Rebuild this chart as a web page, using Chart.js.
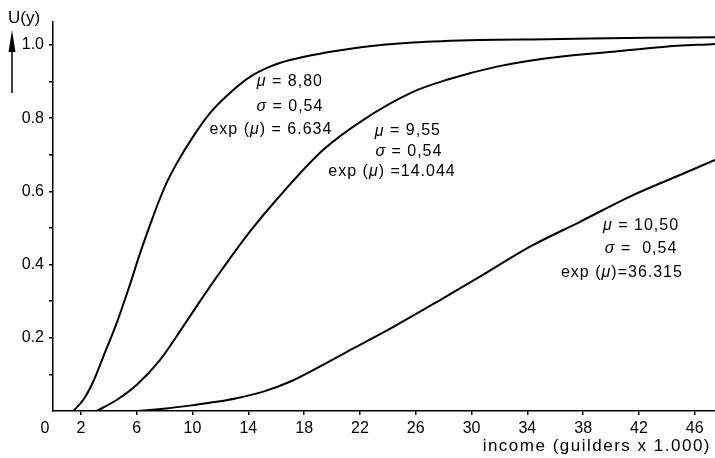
<!DOCTYPE html>
<html>
<head>
<meta charset="utf-8">
<script src="https://cdn.jsdelivr.net/npm/chart.js@4.4.1/dist/chart.umd.min.js"></script>
<style>
  html, body { margin: 0; padding: 0; background: #fff; }
  canvas { display: block; }
</style>
</head>
<body>
<canvas id="chart" width="715" height="458"></canvas>
<script>
// ticks
const xTicks = [2, 6, 10, 14, 18, 22, 26, 30, 34, 38, 42, 46];
const yTicks = [0.1, 0.2, 0.3, 0.4, 0.5, 0.6, 0.7, 0.8, 0.9, 1.0];

// curve 1: mu = 8,80
const inc1 = [1.45, 2.16, 2.88, 3.6, 4.56, 5.51, 6.23, 6.95, 7.66, 8.2, 8.86, 10.03, 11.25, 12.68, 14.12, 15.55, 16.98, 19.35, 22.22, 25.8, 30.6, 35.41, 42.58, 47.45];
const u1   = [0, 0.03, 0.08, 0.148, 0.24, 0.345, 0.43, 0.508, 0.58, 0.628, 0.676, 0.749, 0.814, 0.869, 0.913, 0.941, 0.959, 0.978, 0.995, 1.007, 1.014, 1.016, 1.02, 1.021];

// curve 2: mu = 9,55
const inc2 = [3.13, 4.56, 5.99, 7.66, 9.31, 10.75, 12.44, 14.11, 16.03, 19.35, 22.22, 25.8, 28.24, 31.82, 35.41, 40.14, 43.73, 47.45];
const u2   = [0, 0.03, 0.071, 0.139, 0.23, 0.312, 0.404, 0.49, 0.578, 0.713, 0.795, 0.872, 0.905, 0.941, 0.964, 0.982, 0.995, 1.003];

// curve 3: mu = 10,50
const inc3 = [6.0, 8.14, 10.05, 11.73, 13.16, 15.07, 16.98, 18.65, 21.52, 24.63, 27.74, 30.6, 34.19, 37.77, 41.35, 44.94, 47.45];
const u3   = [0, 0.007, 0.016, 0.025, 0.035, 0.053, 0.08, 0.112, 0.171, 0.235, 0.303, 0.367, 0.449, 0.517, 0.586, 0.645, 0.686];

// parameter labels next to each curve
const curveLabels = [
  { lines: ['μ = 8,80', 'σ = 0,54', 'exp (μ) = 6.634'], at: [[16.98, 0.899], [16.98, 0.833], [15.62, 0.768]] },
  { lines: ['μ = 9,55', 'σ = 0,54', 'exp (μ) =14.044'], at: [[25.44, 0.765], [25.51, 0.708], [24.3, 0.653]] },
  { lines: ['μ = 10,50', 'σ =  0,54', 'exp (μ)=36.315'], at: [[42.15, 0.508], [42.15, 0.443], [40.78, 0.377]] },
];

const FONT = '"Liberation Sans", Arial, sans-serif';

function pts(xs, ys) { return xs.map((x, i) => ({ x: x, y: ys[i] })); }

function line(data) {
  return { data: data, borderColor: '#000', borderWidth: 2, pointRadius: 0, fill: false, cubicInterpolationMode: 'monotone' };
}

// draws text centred at cx, greek letters in italics
function drawRuns(ctx, text, cx, cy, size) {
  const up = size + 'px ' + FONT, it = 'italic ' + size + 'px ' + FONT;
  let w = 0;
  const parts = [...text].map(ch => {
    const f = /[μσ]/.test(ch) ? it : up;
    ctx.font = f;
    const cw = ctx.measureText(ch).width;
    w += cw;
    return { ch, f, cw };
  });
  let x = cx - w / 2;
  parts.forEach(p => { ctx.font = p.f; ctx.fillText(p.ch, x, cy); x += p.cw; });
}

const extras = {
  id: 'extras',
  afterDraw(chart) {
    const { ctx, scales: { x, y } } = chart;
    ctx.save();
    ctx.fillStyle = '#000';
    ctx.strokeStyle = '#000';
    ctx.textBaseline = 'middle';
    ctx.textAlign = 'left';
    ctx.letterSpacing = '1px';
    curveLabels.forEach(lbl => {
      lbl.lines.forEach((t, i) => {
        drawRuns(ctx, t, x.getPixelForValue(lbl.at[i][0]), y.getPixelForValue(lbl.at[i][1]), 16);
      });
    });
    // x axis title
    ctx.letterSpacing = '1.5px';
    ctx.font = '17px ' + FONT;
    ctx.textAlign = 'right';
    ctx.fillText('income (guilders x 1.000)', 711, 446);
    // origin label
    ctx.letterSpacing = '0px';
    ctx.font = '16px ' + FONT;
    ctx.textAlign = 'center';
    ctx.fillText('0', x.getPixelForValue(0) - 8, 429);
    // y axis title with arrow
    ctx.font = '17px ' + FONT;
    ctx.fillText('U(y)', 24, 18);
    ctx.lineWidth = 1.5;
    ctx.beginPath();
    ctx.moveTo(12, 93);
    ctx.lineTo(12, 45);
    ctx.stroke();
    ctx.beginPath();
    ctx.moveTo(12, 30);
    ctx.lineTo(15.5, 52);
    ctx.lineTo(8.5, 52);
    ctx.closePath();
    ctx.fill();
    ctx.restore();
  }
};

new Chart(document.getElementById('chart'), {
  type: 'line',
  data: {
    datasets: [line(pts(inc1, u1)), line(pts(inc2, u2)), line(pts(inc3, u3))]
  },
  options: {
    responsive: false,
    animation: false,
    devicePixelRatio: 1,
    layout: { padding: { top: 22, right: 0, left: 0, bottom: 0 } },
    plugins: { legend: { display: false }, tooltip: { enabled: false } },
    scales: {
      x: {
        type: 'linear',
        min: 0,
        max: 47.45,
        afterFit: s => { s.height = 47; },
        afterBuildTicks: s => { s.ticks = xTicks.map(v => ({ value: v })); },
        grid: { drawOnChartArea: false, drawTicks: true, tickLength: 4, color: '#000', lineWidth: 1.5 },
        border: { color: '#000', width: 1.5 },
        ticks: { color: '#000', font: { family: FONT, size: 16 }, padding: 4, maxRotation: 0, autoSkip: false }
      },
      y: {
        min: 0,
        max: 1.063,
        afterFit: s => { s.width = 53; },
        afterBuildTicks: s => { s.ticks = yTicks.map(v => ({ value: v })); },
        grid: { drawOnChartArea: false, drawTicks: true, tickLength: 4, color: '#000', lineWidth: 1.5 },
        border: { color: '#000', width: 1.5 },
        ticks: {
          color: '#000', font: { family: FONT, size: 16 }, padding: 5, autoSkip: false,
          callback: v => (Math.round(v * 10) % 2 === 0 ? v.toFixed(1) : '')
        }
      }
    }
  },
  plugins: [extras]
});
</script>
</body>
</html>
